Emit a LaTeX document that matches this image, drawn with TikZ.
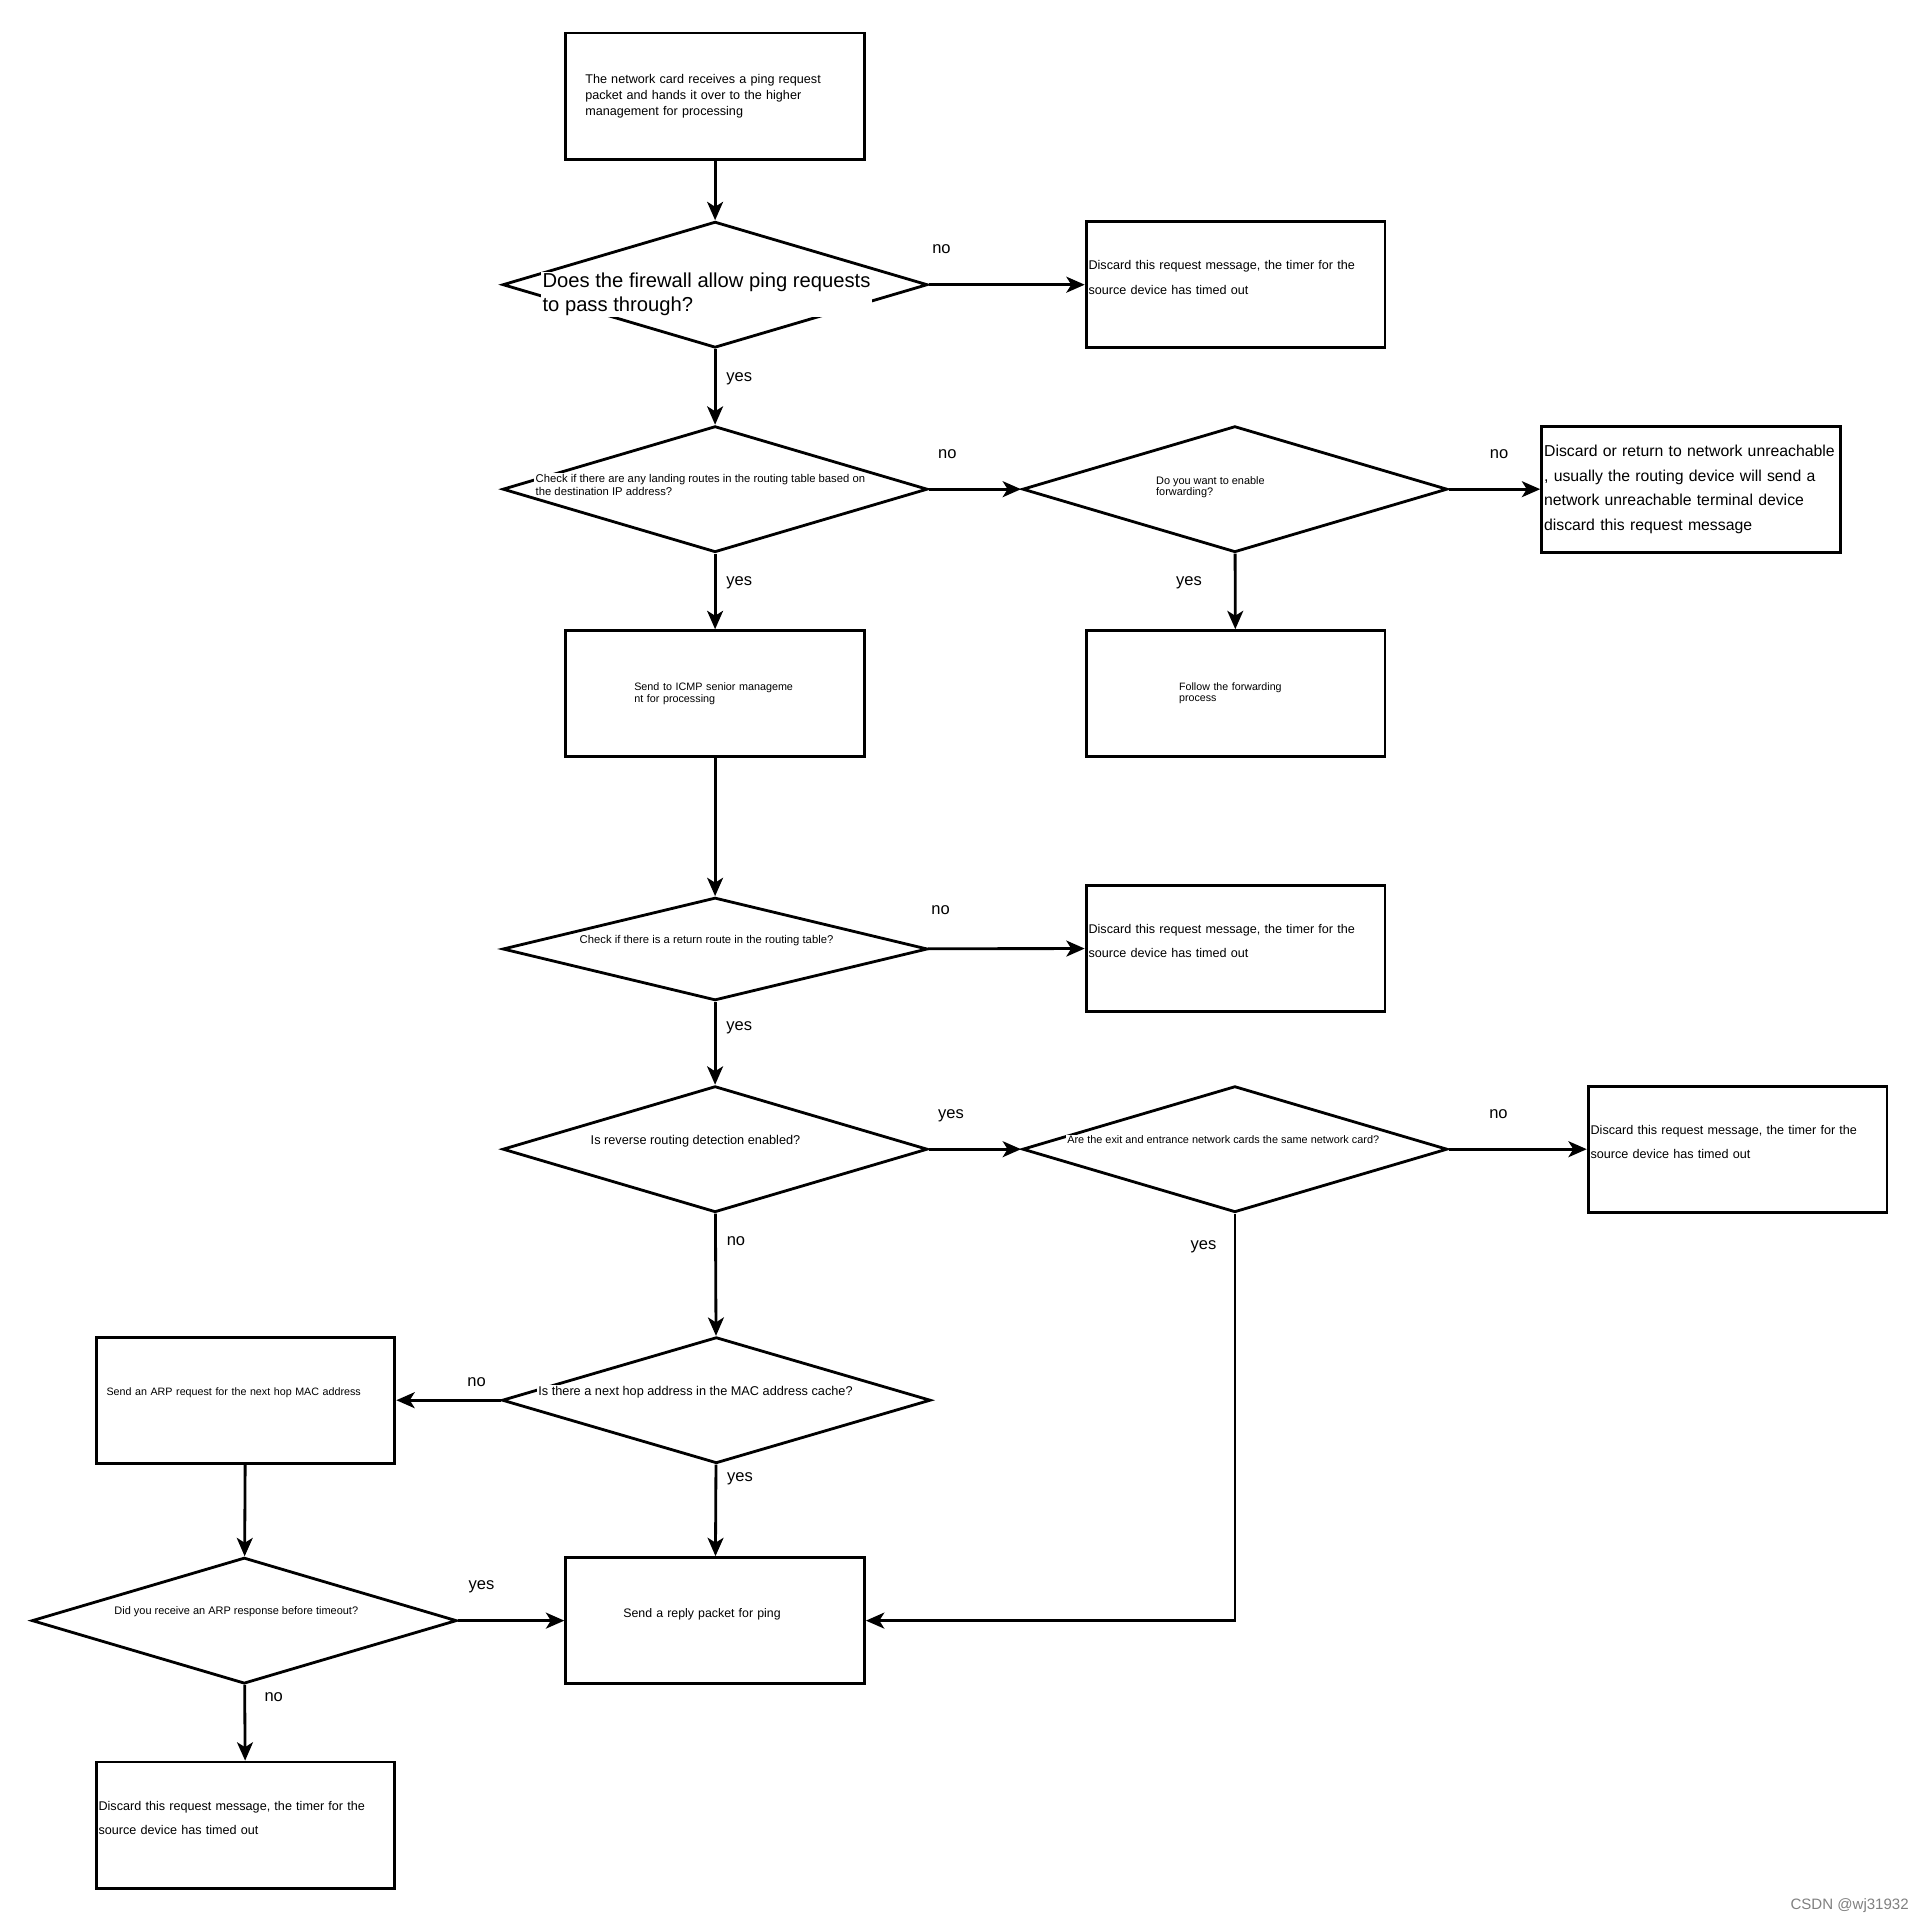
\documentclass[tikz,border=0pt]{standalone}
\usepackage{fontspec}
\setmainfont{Liberation Sans}
\usepackage{tikz}
\usetikzlibrary{arrows.meta}
\usetikzlibrary{shapes.geometric}
\usetikzlibrary{positioning}
\newcommand{\fsz}[2]{\fontsize{#1}{#2}\selectfont}
\tikzset{
  flowbox/.style={draw, line width=2.3pt, rectangle, minimum width=244pt, minimum height=103pt, inner sep=2pt, align=left},
  dropbox/.style={flowbox, text width=240pt, text depth=32pt, font=\fsz{10.3}{20}},
  decision/.style={draw, line width=2.3pt, diamond, minimum width=347pt, minimum height=103pt, inner sep=0pt},
  dtext/.style={inner sep=1pt, fill=white, align=left},
  flow/.style={black, line width=2.3pt, ->, >={Stealth[length=15pt,width=13pt,inset=4pt]}},
  answer/.style={inner sep=0pt, text height=9pt, text depth=3pt, font=\fsz{13.5}{16}}
}

\begin{document}
\begin{tikzpicture}[x=1pt, y=-1pt]
\useasboundingbox (0,0) rectangle (1568,1568);
% main column
\node[flowbox, text width=212pt, font=\fsz{10.3}{13}] (card) at (584,78.5) {The network card receives a ping request\\packet and hands it over to the higher\\management for processing};
\node[decision, label={[dtext, font=\fsz{16.5}{20}, xshift=-7pt, yshift=-8pt]center:{Does the firewall allow ping requests\\to pass through?}}] (firewall) at (584,232.5) {};
\node[decision, label={[dtext, font=\fsz{9.2}{10}, xshift=-12pt, yshift=3.5pt]center:{Check if there are any landing routes in the routing table based on\\the destination IP address?}}] (landing) at (584,399.5) {};
\node[flowbox, text width=132pt, font=\fsz{8.8}{10}] (icmp) at (584,566.5) {\mbox{Send to ICMP senior manageme}\\nt for processing};
\node[decision, minimum height=84pt, label={[dtext, font=\fsz{9.2}{10}, xshift=-7pt, yshift=7pt]center:{Check if there is a return route in the routing table?}}] (retroute) at (584,775) {};
\node[decision, label={[dtext, font=\fsz{10.4}{12}, xshift=-16pt, yshift=6.5pt]center:{Is reverse routing detection enabled?}}] (reverse) at (584,938.5) {};
\node[decision, minimum width=350pt, label={[dtext, font=\fsz{10.4}{12}, xshift=-17pt, yshift=6.5pt]center:{Is there a next hop address in the MAC address cache?}}] (maccache) at (585,1143.5) {};
\node[flowbox, text width=150pt, text depth=12pt, font=\fsz{10.1}{12}] (reply) at (584,1323.5) {Send a reply packet for ping};
% right column
\node[dropbox] (drop1) at (1009,232.5) {Discard this request message, the timer for the\\source device has timed out};
\node[decision, label={[dtext, font=\fsz{8.9}{9}, xshift=-20pt, yshift=2pt]center:{Do you want to enable\\forwarding?}}] (enable) at (1008.5,399.5) {};
\node[flowbox, text width=240pt, font=\fsz{12.9}{20}] (unreach) at (1381,399.5) {Discard or return to network unreachable\\, usually the routing device will send a\\network unreachable terminal device\\discard this request message};
\node[flowbox, text width=92pt, font=\fsz{8.7}{9}] (forward) at (1009,566.5) {Follow the forwarding\\process};
\node[dropbox] (drop2) at (1009,774.5) {Discard this request message, the timer for the\\source device has timed out};
\node[decision, label={[dtext, font=\fsz{8.9}{10}, xshift=-9.5pt, yshift=7.5pt]center:{Are the exit and entrance network cards the same network card?}}] (samecard) at (1008.5,938.5) {};
\node[dropbox] (drop3) at (1419,938.5) {Discard this request message, the timer for the\\source device has timed out};
% left column
\node[flowbox, text width=227pt, text depth=14pt, font=\fsz{8.75}{11}] (arp) at (200.5,1143.5) {Send an ARP request for the next hop MAC address};
\node[decision, label={[dtext, font=\fsz{8.95}{10}, xshift=-6.5pt, yshift=7.5pt]center:{Did you receive an ARP response before timeout?}}] (arpreply) at (199.5,1323.5) {};
\node[dropbox] (drop4) at (200.5,1490.5) {Discard this request message, the timer for the\\source device has timed out};
\node[text=gray, font=\fsz{12.3}{14}, anchor=east, inner sep=0pt] (mark) at (1559,1556) {CSDN @wj31932};
% connectors
\draw[flow] (card) -- (firewall);
\draw[flow] (firewall) -- (drop1) node[answer, pos=.08, above=21pt] {no};
\draw[flow] (firewall) -- (landing) node[answer, pos=.375, right=8pt] {yes};
\draw[flow] (landing) -- (enable) node[answer, pos=.2, above=21pt] {no};
\draw[flow] (enable) -- (unreach) node[answer, pos=.55, above=21pt] {no};
\draw[flow] (enable) -- (forward) node[answer, pos=.375, left=26pt] {yes};
\draw[flow] (landing) -- (icmp) node[answer, pos=.375, right=8pt] {yes};
\draw[flow] (icmp) -- (retroute);
\draw[flow] (retroute) -- (drop2) node[answer, pos=.08, above=24pt] {no};
\draw[flow] (retroute) -- (reverse) node[answer, pos=.3, right=8pt] {yes};
\draw[flow] (reverse) -- (samecard) node[answer, pos=.24, above=21pt] {yes};
\draw[flow] (samecard) -- (drop3) node[answer, pos=.36, above=21pt] {no};
\draw[flow] (samecard.south) |- (reply.east) node[answer, pos=.04, left=14pt] {yes};
\draw[flow] (reverse) -- (maccache) node[answer, pos=.235, right=8pt] {no};
\draw[flow] (maccache.west) -- (arp.east) node[answer, pos=.23, above=7pt] {no};
\draw[flow] (maccache) -- (reply) node[answer, pos=.14, right=8pt] {yes};
\draw[flow] (arp) -- (arpreply);
\draw[flow] (arpreply) -- (reply) node[answer, pos=.22, above=21pt] {yes};
\draw[flow] (arpreply) -- (drop4) node[answer, pos=.17, right=15pt] {no};
\end{tikzpicture}
\end{document}
